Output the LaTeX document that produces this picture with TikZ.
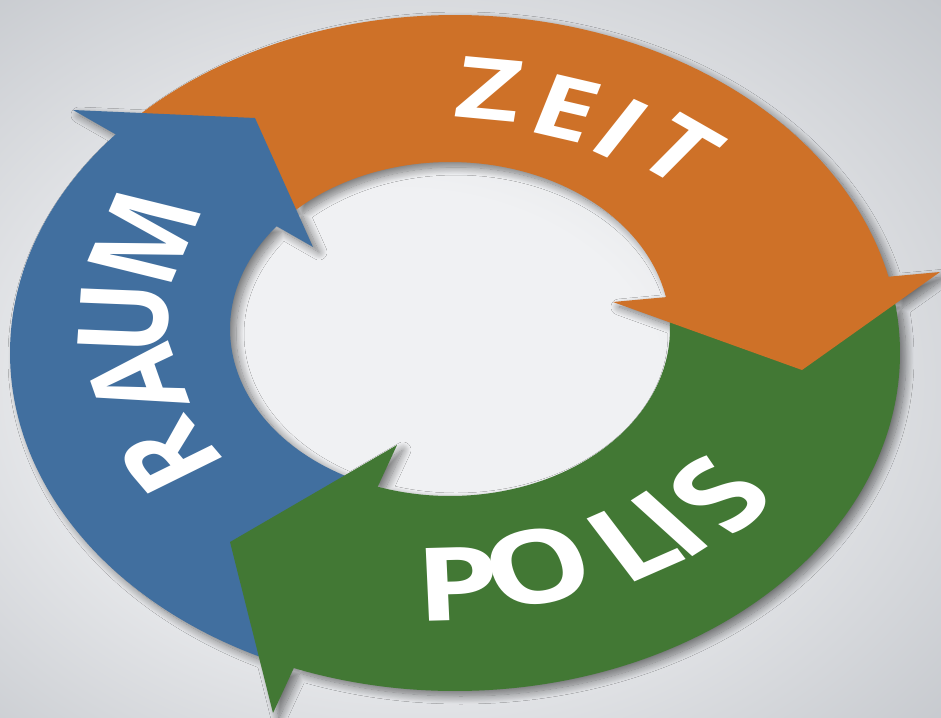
\documentclass[tikz,border=0pt]{standalone}
\usepackage{fontspec}
\newfontfamily\lblfont{Open Sans}
\usetikzlibrary{shadows.blur}
\definecolor{ringorange}{HTML}{CE7128}
\definecolor{ringgreen}{HTML}{427834}
\definecolor{ringblue}{HTML}{416F9F}
\definecolor{bglight}{HTML}{F0F1F3}
\definecolor{bgdark}{HTML}{C4C7CC}
\pgfdeclareradialshading{bgshade}{\pgfpoint{-5bp}{-3bp}}{color(0bp)=(bglight); color(14bp)=(bglight); color(38bp)=(bgdark); color(60bp)=(bgdark)}
\tikzset{
  outarc/.style 2 args={insert path={plot[domain=#1:#2,samples=100,smooth] ({455+445*cos(\x)},{353-338*sin(\x)})}},
  inarc/.style 2 args={insert path={-- plot[domain=#1:#2,samples=100,smooth] ({450+220*cos(\x)},{329-167*sin(\x)}) -- cycle}},
  ringshadow/.style={blur shadow={shadow xshift=6pt, shadow yshift=-5pt, shadow blur radius=8pt, shadow blur steps=14, shadow opacity=50}},
  lbl/.style={text=white, inner sep=0pt, anchor=center, transform shape},
  zeitlbl/.style={lbl, font=\lblfont\bfseries\fontsize{112}{112}\selectfont},
  polislbl/.style={lbl, font=\lblfont\bfseries\fontsize{134}{134}\selectfont},
  raumlbl/.style={lbl, font=\lblfont\bfseries\fontsize{124}{124}\selectfont}
}
\begin{document}
\begin{tikzpicture}[x=1pt,y=-1pt]
\useasboundingbox (0,0) rectangle (941,717);
\shade[shading=bgshade] (0,0) rectangle (941,717);
% shadow of the whole ring
\path[ringshadow]
  [outarc={137}{12}] [inarc={9}{138}]
  [outarc={9}{-113}] [inarc={-113}{3}]
  [outarc={-113}{-223}] [inarc={-223}{-113}]
  (73,110) -- (255,118) -- (313,247) -- cycle
  (940,272) -- (802,370) -- (613,302) -- cycle
  (397,445) -- (273,713) -- (230,542) -- cycle;
% bands
\fill[ringorange] [outarc={137}{12}] [inarc={9}{138}];
\fill[ringgreen] [outarc={9}{-113}] [inarc={-113}{3}];
\fill[ringblue] [outarc={-113}{-223}] [inarc={-223}{-113}];
% heads
\fill[ringblue] (73,110) -- (255,118) -- (313,247) -- cycle;
\fill[ringorange] (940,272) -- (802,370) -- (613,302) -- cycle;
\fill[ringgreen] (397,445) -- (273,713) -- (230,542) -- cycle;
% labels, set on a circle and squeezed vertically like the ring
\begin{scope}[yscale=0.76]
% ZEIT
\node[zeitlbl, rotate=-7] (z1) at (490,117.1) {Z};
\node[zeitlbl, rotate=-17] (z2) at (566,142.1) {E};
\node[zeitlbl, rotate=-31] (z3) at (621,169.7) {I};
\node[zeitlbl, rotate=-37] (z4) at (680,197.4) {T};
% POLIS
\node[polislbl, rotate=2] (p1) at (458,768.4) {P};
\node[polislbl, rotate=15] (p2) at (538,746.1) {O};
\node[polislbl, rotate=30] (p3) at (633,711.8) {L};
\node[polislbl, rotate=40] (p4) at (670,689.5) {I};
\node[polislbl, rotate=50] (p5) at (720,651.3) {S};
% RAUM
\node[raumlbl, rotate=123] (r1) at (169,601.3) {R};
\node[raumlbl, rotate=105] (r2) at (136,501.3) {A};
\node[raumlbl, rotate=87] (r3) at (124,418.4) {U};
\node[raumlbl, rotate=72] (r4) at (144,313.2) {M};
\end{scope}
\end{tikzpicture}
\end{document}
